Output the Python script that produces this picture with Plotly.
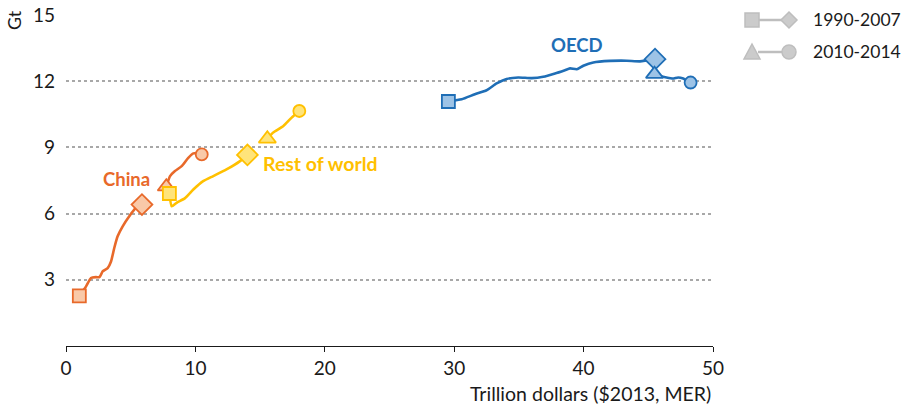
import plotly.graph_objects as go

# ---------------- data (Trillion dollars, Gt) ----------------
china_90_07_x = [1.03, 1.55, 1.93, 2.32, 2.58, 2.70, 2.83, 3.22, 3.48, 3.73, 3.99, 4.38, 4.89, 5.41, 5.87]
china_90_07_y = [2.27, 2.70, 3.08, 3.12, 3.12, 3.23, 3.38, 3.53, 3.83, 4.44, 4.97, 5.42, 5.88, 6.26, 6.41]
china_10_14_x = [7.75, 8.04, 8.42, 8.94, 9.45, 9.84, 10.10, 10.49]
china_10_14_y = [7.22, 7.70, 7.93, 8.15, 8.53, 8.73, 8.73, 8.68]

row_90_07_x = [7.99, 8.17, 8.55, 9.20, 9.84, 10.60, 11.38, 12.40, 13.45, 14.02]
row_90_07_y = [6.91, 6.33, 6.49, 6.70, 7.09, 7.47, 7.70, 8.00, 8.38, 8.66]
row_10_14_x = [15.56, 16.00, 16.80, 17.44, 18.03]
row_10_14_y = [9.39, 9.67, 9.97, 10.35, 10.65]

oecd_90_07_x = [29.55, 30.58, 31.60, 32.50, 33.28, 34.05, 34.95, 35.98, 36.88, 37.79, 38.56, 38.95, 39.47, 39.98, 40.75, 42.04, 43.33, 44.36, 45.52]
oecd_90_07_y = [11.08, 11.18, 11.41, 11.59, 11.90, 12.10, 12.17, 12.14, 12.20, 12.35, 12.50, 12.58, 12.54, 12.70, 12.85, 12.92, 12.93, 12.90, 13.00]
oecd_10_14_x = [45.48, 45.90, 46.40, 46.90, 47.30, 47.70, 48.27]
oecd_10_14_y = [12.32, 12.24, 12.17, 12.12, 12.17, 12.12, 11.94]

x_ticks = [0, 10, 20, 30, 40, 50]
y_ticks = [3, 6, 9, 12, 15]
legend_labels = ["1990-2007", "2010-2014"]

FONT = "Lato"
TXT = "#1a1a1a"
regions = [
    ("China", china_90_07_x, china_90_07_y, china_10_14_x, china_10_14_y, "#E8692A", "#F9C9A8"),
    ("Rest of world", row_90_07_x, row_90_07_y, row_10_14_x, row_10_14_y, "#FFC000", "#FFE47A"),
    ("OECD", oecd_90_07_x, oecd_90_07_y, oecd_10_14_x, oecd_10_14_y, "#1F6EB6", "#9DC3E6"),
]

fig = go.Figure()
for name, x1, y1, x2, y2, lc, fc in regions:
    for xs, ys in ((x1, y1), (x2, y2)):
        fig.add_trace(go.Scatter(x=xs, y=ys, mode="lines", line=dict(color=lc, width=2.6, shape="spline", smoothing=0.5),
                                 showlegend=False, hoverinfo="skip"))
    marks = [
        (x1[0], y1[0], "square", 13),
        (x1[-1], y1[-1], "diamond", 16),
        (x2[0], y2[0], "triangle-up", 15),
        (x2[-1], y2[-1], "circle", 12),
    ]
    for mx, my, sym, sz in marks:
        fig.add_trace(go.Scatter(x=[mx], y=[my], mode="markers",
                                 marker=dict(symbol=sym, size=sz, color=fc, line=dict(color=lc, width=1.8)),
                                 showlegend=False, hoverinfo="skip"))

# region labels
fig.add_annotation(x=4.64, y=7.55, text="<b>China</b>", showarrow=False, font=dict(family=FONT, size=18.5, color="#E8692A"))
fig.add_annotation(x=15.1, y=8.27, text="<b>Rest of world</b>", showarrow=False, xanchor="left",
                   font=dict(family=FONT, size=19.5, color="#FFC000"))
fig.add_annotation(x=39.5, y=13.64, text="<b>OECD</b>", showarrow=False, font=dict(family=FONT, size=18.5, color="#1F6EB6"))

# plot-area geometry (pixels) for paper conversion of legend decorations
L, R, T, B = 66, 713, 15, 346
def px(xp):
    return (xp - L) / (R - L)
def py(yp):
    return (B - yp) / (B - T)

G_FILL, G_LINE = "#CBCBCB", "#BEBEBE"
shapes = []
# legend row 1: square - diamond
yc = 20
shapes.append(dict(type="line", xref="paper", yref="paper", x0=px(758), x1=px(782), y0=py(yc), y1=py(yc), line=dict(color=G_LINE, width=2.5)))
shapes.append(dict(type="rect", xref="paper", yref="paper", x0=px(745), x1=px(759), y0=py(yc + 7), y1=py(yc - 7), fillcolor=G_FILL, line=dict(color=G_LINE, width=1.5)))
shapes.append(dict(type="path", xref="paper", yref="paper",
                   path=f"M {px(789)} {py(yc-8)} L {px(797)} {py(yc)} L {px(789)} {py(yc+8)} L {px(781)} {py(yc)} Z",
                   fillcolor=G_FILL, line=dict(color=G_LINE, width=1.5)))
# legend row 2: triangle - circle
yc = 52
shapes.append(dict(type="line", xref="paper", yref="paper", x0=px(758), x1=px(782), y0=py(yc), y1=py(yc), line=dict(color=G_LINE, width=2.5)))
shapes.append(dict(type="path", xref="paper", yref="paper",
                   path=f"M {px(752)} {py(yc-8)} L {px(760)} {py(yc+7)} L {px(744)} {py(yc+7)} Z",
                   fillcolor=G_FILL, line=dict(color=G_LINE, width=1.5)))
shapes.append(dict(type="circle", xref="paper", yref="paper", x0=px(782), x1=px(796), y0=py(yc + 7), y1=py(yc - 7),
                   fillcolor=G_FILL, line=dict(color=G_LINE, width=1.5)))
for lab, yc in zip(legend_labels, (20, 52)):
    fig.add_annotation(xref="paper", yref="paper", x=px(811), y=py(yc), text=lab, showarrow=False,
                       xanchor="left", yanchor="middle", font=dict(family=FONT, size=17.5, color=TXT))

# axis titles
fig.add_annotation(xref="paper", yref="paper", x=1.0, y=py(393), text="Trillion dollars ($2013, MER)", showarrow=False,
                   xanchor="right", yanchor="middle", font=dict(family=FONT, size=19.5, color=TXT))
fig.add_annotation(xref="paper", yref="paper", x=px(14), y=py(20), text="Gt", textangle=-90, showarrow=False,
                   xanchor="center", yanchor="middle", font=dict(family=FONT, size=18, color=TXT))

fig.update_layout(
    width=910, height=405,
    margin=dict(l=L, r=910 - R, t=T, b=405 - B, autoexpand=False),
    paper_bgcolor="white", plot_bgcolor="white",
    shapes=shapes,
    font=dict(family=FONT, size=18, color=TXT),
    xaxis=dict(range=[0, 50], tickvals=x_ticks, showgrid=False, zeroline=False, showline=True, linecolor=TXT,
               linewidth=1.3, ticks="outside", ticklen=5, tickcolor=TXT, tickwidth=1.3, automargin=False,
               tickfont=dict(family=FONT, size=19, color=TXT), fixedrange=True),
    yaxis=dict(range=[0, 15], tickvals=y_ticks, showgrid=True, gridcolor="#A8A8A8", griddash="dot", gridwidth=1.6,
               zeroline=False, showline=False, ticks="", ticklabelstandoff=10, automargin=False,
               tickfont=dict(family=FONT, size=19, color=TXT), fixedrange=True),
    showlegend=False,
)
fig.write_html("out.html", config={"displayModeBar": False},
               post_script="document.body.style.margin='0px';document.body.style.overflow='hidden';")
